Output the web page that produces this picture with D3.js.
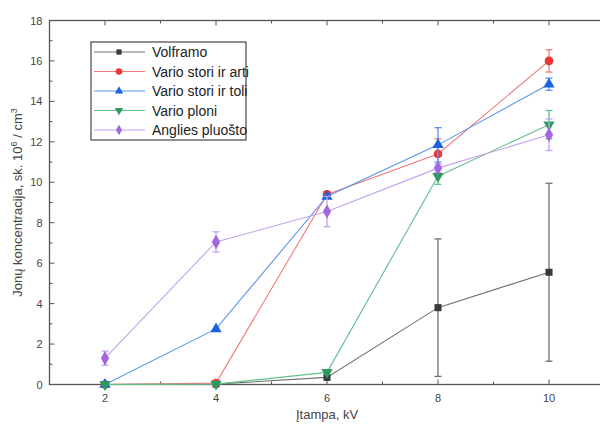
<!DOCTYPE html>
<html><head><meta charset="utf-8">
<script src="https://cdn.jsdelivr.net/npm/d3@7"></script>
<style>body{margin:0;background:#fff}svg{display:block;font-family:Arial,"Liberation Sans",sans-serif}</style>
</head><body><svg id="c" width="600" height="425"></svg>
<script>
const voltages = [2, 4, 6, 8, 10];
const seriesNames = ["Volframo", "Vario stori ir arti", "Vario stori ir toli", "Vario ploni", "Anglies pluošto"];
const volframo = [0, 0.02, 0.35, 3.8, 5.55];
const volframoErr = [0, 0, 0, 3.4, 4.4];
const varioArti = [0, 0.07, 9.4, 11.4, 16.0];
const varioArtiErr = [0, 0, 0.15, 0.75, 0.55];
const varioToli = [0, 2.75, 9.3, 11.85, 14.85];
const varioToliErr = [0, 0, 0.1, 0.85, 0.3];
const varioPloni = [0, 0.02, 0.6, 10.3, 12.85];
const varioPloniErr = [0, 0, 0.08, 0.4, 0.7];
const anglies = [1.3, 7.05, 8.55, 10.7, 12.35];
const angliesErr = [0.35, 0.5, 0.75, 0.2, 0.78];
const xTicks = [2, 4, 6, 8, 10];
const yTicks = [0, 2, 4, 6, 8, 10, 12, 14, 16, 18];

const values = [volframo, varioArti, varioToli, varioPloni, anglies];
const errs = [volframoErr, varioArtiErr, varioToliErr, varioPloniErr, angliesErr];
const markColors = ["#3a3a3a", "#f03535", "#1a62e0", "#2c9a5c", "#a266e0"];
const lineColors = ["#707070", "#f27a7a", "#5b95ef", "#62c08a", "#c4a2f0"];
const symbols = [d3.symbolSquare, d3.symbolCircle, d3.symbolTriangle, "down", d3.symbolDiamond];

const svg = d3.select("#c");
const x = d3.scaleLinear().domain([1, 11]).range([49.5, 604.5]);
const y = d3.scaleLinear().domain([0, 18]).range([384.5, 20.5]);
const axisColor = "#555";

svg.append("rect").attr("x", x(1)).attr("y", y(18)).attr("width", x(11) - x(1)).attr("height", y(0) - y(18))
  .attr("fill", "none").attr("stroke", axisColor).attr("stroke-width", 1.3);

const g = svg.append("g").attr("stroke", axisColor).attr("stroke-width", 1);
d3.range(1, 11.01, 1).forEach(v => {
  const len = (v % 2 === 0) ? 5 : 3;
  g.append("line").attr("x1", x(v)).attr("x2", x(v)).attr("y1", y(0)).attr("y2", y(0) - len);
  g.append("line").attr("x1", x(v)).attr("x2", x(v)).attr("y1", y(18)).attr("y2", y(18) + len);
});
d3.range(0, 18.01, 1).forEach(v => {
  const len = (v % 2 === 0) ? 5 : 3;
  g.append("line").attr("x1", x(1)).attr("x2", x(1) + len).attr("y1", y(v)).attr("y2", y(v));
});

svg.append("g").selectAll("text").data(xTicks).join("text")
  .attr("x", d => x(d)).attr("y", y(0) + 17).attr("text-anchor", "middle")
  .attr("font-size", 11).attr("fill", "#444").text(d => d);
svg.append("g").selectAll("text").data(yTicks).join("text")
  .attr("x", x(1) - 7).attr("y", d => y(d) + 4).attr("text-anchor", "end")
  .attr("font-size", 11).attr("fill", "#444").text(d => d);

svg.append("text").attr("x", (x(2) + x(10)) / 2).attr("y", 419).attr("text-anchor", "middle")
  .attr("font-size", 13).attr("fill", "#444").text("Įtampa, kV");
const yt = svg.append("text").attr("transform", `translate(22,${y(9)}) rotate(-90)`).attr("text-anchor", "middle")
  .attr("font-size", 13).attr("fill", "#444");
yt.append("tspan").text("Jonų koncentracija, sk. 10");
yt.append("tspan").attr("dy", -5).attr("font-size", 9).text("6");
yt.append("tspan").attr("dy", 5).text(" / cm");
yt.append("tspan").attr("dy", -5).attr("font-size", 9).text("3");

function symPath(s, size) {
  if (s === "down") return d3.symbol(d3.symbolTriangle, size)();
  return d3.symbol(s, size)();
}
function symTransform(s, px, py) {
  return s === "down" ? `translate(${px},${py}) rotate(180)` : `translate(${px},${py})`;
}
const sizes = [50, 60, 55, 55, 60];

values.forEach((vals, i) => {
  const pts = voltages.map((v, j) => ({x: v, y: vals[j], e: errs[i][j]}));
  const sg = svg.append("g");
  sg.append("path").datum(pts).attr("fill", "none").attr("stroke", lineColors[i]).attr("stroke-width", 1.1)
    .attr("d", d3.line().x(d => x(d.x)).y(d => y(d.y)));
  pts.filter(d => d.e > 0).forEach(d => {
    const c = lineColors[i];
    sg.append("line").attr("x1", x(d.x)).attr("x2", x(d.x)).attr("y1", y(d.y - d.e)).attr("y2", y(d.y + d.e))
      .attr("stroke", c).attr("stroke-width", 1.3);
    [d.y - d.e, d.y + d.e].forEach(v => sg.append("line").attr("x1", x(d.x) - 3.5).attr("x2", x(d.x) + 3.5)
      .attr("y1", y(v)).attr("y2", y(v)).attr("stroke", c).attr("stroke-width", 1.3));
  });
  pts.forEach(d => sg.append("path").attr("d", symPath(symbols[i], sizes[i]))
    .attr("transform", symTransform(symbols[i], x(d.x), y(d.y))).attr("fill", markColors[i]));
});

const lg = svg.append("g");
lg.append("rect").attr("x", 91).attr("y", 42).attr("width", 155).attr("height", 98)
  .attr("fill", "#fff").attr("stroke", "#555").attr("stroke-width", 1.3);
seriesNames.forEach((name, i) => {
  const ly = 52 + i * 19.5;
  lg.append("line").attr("x1", 94).attr("x2", 145).attr("y1", ly).attr("y2", ly)
    .attr("stroke", lineColors[i]).attr("stroke-width", 1.1);
  lg.append("path").attr("d", symPath(symbols[i], sizes[i] * 0.55))
    .attr("transform", symTransform(symbols[i], 119, ly)).attr("fill", markColors[i]);
  lg.append("text").attr("x", 152).attr("y", ly + 5).attr("font-size", 14).attr("fill", "#222").text(name);
});
</script></body></html>
